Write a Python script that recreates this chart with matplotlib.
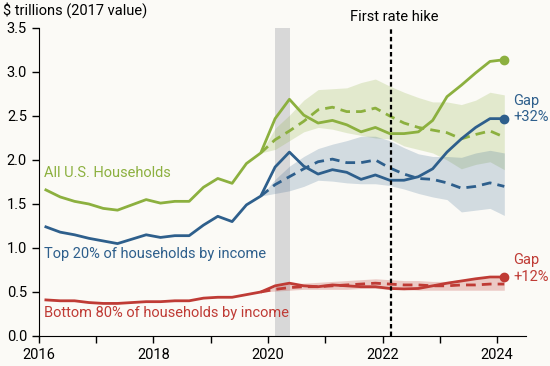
import numpy as np
import matplotlib.pyplot as plt

plt.rcParams['font.family'] = ['Roboto', 'DejaVu Sans']

# quarterly, 2016Q1 .. 2024Q1 (plotted at mid-quarter)
quarters = 2016.125 + 0.25 * np.arange(33)

all_hh = [1.66, 1.58, 1.53, 1.50,
          1.45, 1.43, 1.49, 1.55,
          1.51, 1.53, 1.53, 1.69,
          1.79, 1.735, 1.96, 2.08,
          2.47, 2.69, 2.51, 2.42,
          2.45, 2.40, 2.32, 2.37,
          2.30, 2.30, 2.32, 2.45,
          2.72, 2.85, 2.99, 3.12,
          3.14]
top20 = [1.24, 1.18, 1.15, 1.11,
         1.08, 1.05, 1.10, 1.15,
         1.12, 1.14, 1.14, 1.26,
         1.36, 1.30, 1.49, 1.59,
         1.92, 2.09, 1.93, 1.84,
         1.89, 1.86, 1.78, 1.83,
         1.77, 1.77, 1.81, 1.90,
         2.09, 2.24, 2.37, 2.47,
         2.47]
bottom80 = [0.41, 0.40, 0.40, 0.38,
            0.37, 0.37, 0.38, 0.39,
            0.39, 0.40, 0.40, 0.43,
            0.44, 0.44, 0.47, 0.50,
            0.57, 0.60, 0.57, 0.56,
            0.58, 0.57, 0.56, 0.56,
            0.54, 0.535, 0.54, 0.57,
            0.60, 0.625, 0.65, 0.67,
            0.67]

# counterfactual paths, 2019Q4 .. 2024Q1
cf_q = quarters[15:]
all_cf = [2.08, 2.23, 2.33, 2.44, 2.57, 2.60, 2.55, 2.55, 2.59,
          2.50, 2.42, 2.37, 2.34, 2.31, 2.24, 2.29, 2.33, 2.26]
all_hi = [2.08, 2.36, 2.51, 2.68, 2.80, 2.81, 2.82, 2.88, 2.92,
          2.84, 2.77, 2.71, 2.66, 2.66, 2.63, 2.68, 2.77, 2.74]
all_lo = [2.08, 2.12, 2.22, 2.32, 2.37, 2.35, 2.31, 2.28, 2.25,
          2.24, 2.16, 2.12, 2.08, 2.00, 1.90, 1.95, 1.98, 1.89]
top_cf = [1.59, 1.72, 1.81, 1.90, 1.98, 2.01, 1.97, 1.97, 2.00,
          1.91, 1.84, 1.79, 1.78, 1.74, 1.68, 1.70, 1.74, 1.70]
top_hi = [1.59, 1.78, 1.93, 2.04, 2.13, 2.18, 2.22, 2.27, 2.27,
          2.22, 2.14, 2.07, 2.04, 2.04, 2.03, 2.08, 2.11, 2.08]
top_lo = [1.59, 1.62, 1.65, 1.70, 1.77, 1.76, 1.74, 1.73, 1.73,
          1.71, 1.67, 1.62, 1.58, 1.55, 1.41, 1.43, 1.45, 1.37]
bot_cf = [0.50, 0.53, 0.55, 0.56, 0.56, 0.57, 0.58, 0.59, 0.60,
          0.59, 0.58, 0.58, 0.57, 0.57, 0.58, 0.58, 0.59, 0.59]
bot_hi = [0.50, 0.56, 0.59, 0.60, 0.61, 0.62, 0.63, 0.64, 0.65,
          0.64, 0.63, 0.63, 0.62, 0.62, 0.64, 0.65, 0.66, 0.66]
bot_lo = [0.50, 0.51, 0.52, 0.53, 0.53, 0.53, 0.53, 0.54, 0.54,
          0.53, 0.53, 0.52, 0.52, 0.52, 0.52, 0.52, 0.52, 0.52]

recession = (2020.12, 2020.38)
hike = 2022.15

green = '#8cb03f'
blue = '#2e5f8c'
red = '#bf3b35'
bg = '#fbfaf6'

fig = plt.figure(figsize=(5.5, 3.66), dpi=100, facecolor=bg)
ax = fig.add_axes([0.0704, 0.082, 0.8856, 0.8415], facecolor=bg)

ax.axvspan(recession[0], recession[1], color='#d8d8d8', lw=0, zorder=1)

ax.fill_between(cf_q, all_lo, all_hi, color=green, alpha=0.22, lw=0, zorder=2)
ax.fill_between(cf_q, top_lo, top_hi, color=blue, alpha=0.2, lw=0, zorder=2)
ax.fill_between(cf_q, bot_lo, bot_hi, color=red, alpha=0.25, lw=0, zorder=2)

ax.axvline(hike, color='black', lw=1.6, ls=(0, (2, 1.4)), zorder=5)

for y, cf, c in [(all_hh, all_cf, green), (top20, top_cf, blue), (bottom80, bot_cf, red)]:
    ax.plot(cf_q, cf, color=c, lw=2.0, ls=(0, (3.5, 2.2)), zorder=3)
    ax.plot(quarters, y, color=c, lw=2.0, zorder=4)
    ax.plot(quarters[-1], y[-1], 'o', color=c, ms=6, zorder=4)

ax.set_xlim(2016, 2024.5)
ax.set_ylim(0, 3.5)
ax.set_yticks(np.arange(0, 3.51, 0.5))
ax.set_yticklabels(['%.1f' % v for v in np.arange(0, 3.51, 0.5)])
ax.set_xticks([2016, 2018, 2020, 2022, 2024])
ax.set_xticks([2017, 2019, 2021, 2023], minor=True)
ax.tick_params(axis='both', labelsize=10.5, length=5, width=1, color='black')
ax.tick_params(axis='x', which='minor', length=5, width=1)
ax.spines['top'].set_visible(False)
ax.spines['right'].set_visible(False)

ax.text(2016.09, 1.85, 'All U.S. Households', color=green, fontsize=10.5, va='center')
ax.text(2016.09, 0.93, 'Top 20% of households by income', color=blue, fontsize=10.5, va='center')
ax.text(2016.09, 0.26, 'Bottom 80% of households by income', color=red, fontsize=10.5, va='center')
ax.text(2024.28, 2.58, 'Gap\n+32%', color=blue, fontsize=10.5, va='center', linespacing=1.25)
ax.text(2024.28, 0.77, 'Gap\n+12%', color=red, fontsize=10.5, va='center', linespacing=1.25)
ax.text(hike + 0.05, 3.63, 'First rate hike', color='black', fontsize=10.5, ha='center', va='center')

fig.text(0.006, 0.972, '$ trillions (2017 value)', fontsize=10.5, va='center', ha='left')

fig.savefig('out.png', dpi=100, facecolor=bg)
